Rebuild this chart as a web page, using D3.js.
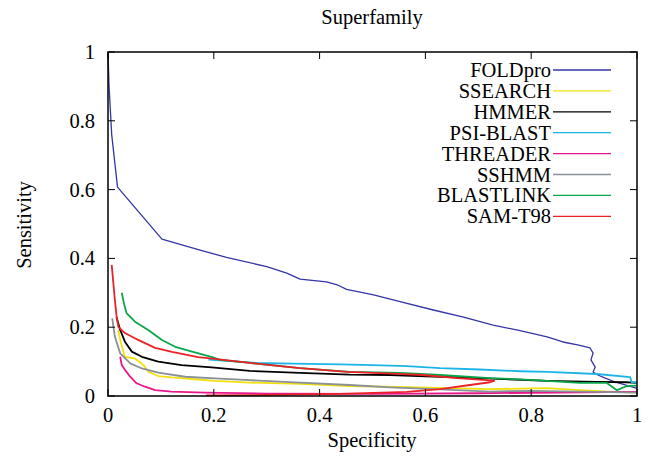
<!DOCTYPE html>
<html><head><meta charset="utf-8">
<script src="https://cdn.jsdelivr.net/npm/d3@7"></script>
<style>body{margin:0;background:#fff}svg{display:block}text{font-family:"Liberation Serif","DejaVu Serif",serif;fill:#000}</style>
</head><body><svg id="c" width="651" height="462"></svg>
<script>
const title = "Superfamily";
const xLabel = "Specificity";
const yLabel = "Sensitivity";
const tickValues = [0, 0.2, 0.4, 0.6, 0.8, 1];
const tickLabels = ["0", "0.2", "0.4", "0.6", "0.8", "1"];
const seriesNames = ["FOLDpro","SSEARCH","HMMER","PSI-BLAST","THREADER","SSHMM","BLASTLINK","SAM-T98"];
const seriesColors = ["#3535a5","#f0e010","#000000","#1cb4e8","#e8168c","#8a9097","#0aa64a","#ea2228"];

const foldpro = [[0,1],[0.002,0.9],[0.007,0.76],[0.018,0.607],[0.102,0.456],[0.174,0.424],[0.224,0.403],[0.3,0.376],[0.338,0.357],[0.363,0.34],[0.413,0.332],[0.435,0.322],[0.451,0.31],[0.502,0.294],[0.552,0.274],[0.615,0.25],[0.672,0.229],[0.728,0.206],[0.779,0.19],[0.83,0.172],[0.86,0.157],[0.89,0.148],[0.911,0.14],[0.917,0.125],[0.913,0.105],[0.921,0.084],[0.917,0.07],[0.926,0.061],[0.94,0.052],[0.96,0.04],[1,0.022]];
const ssearch = [[0.0195,0.192],[0.023,0.163],[0.032,0.114],[0.051,0.109],[0.067,0.09],[0.076,0.071],[0.095,0.058],[0.12,0.054],[0.17,0.048],[0.202,0.044],[0.268,0.039],[0.363,0.035],[0.457,0.029],[0.565,0.026],[0.722,0.02],[0.83,0.023],[0.892,0.017],[0.955,0.012],[1,0.01]];
const hmmer = [[0.016,0.23],[0.023,0.192],[0.032,0.158],[0.045,0.129],[0.064,0.114],[0.095,0.1],[0.139,0.09],[0.196,0.083],[0.268,0.073],[0.363,0.067],[0.457,0.062],[0.533,0.061],[0.628,0.056],[0.703,0.052],[0.83,0.044],[0.924,0.041],[0.98,0.04],[1,0.038]];
const psiblast = [[0.19,0.106],[0.28,0.096],[0.35,0.094],[0.439,0.092],[0.5,0.09],[0.565,0.087],[0.628,0.081],[0.703,0.077],[0.779,0.072],[0.83,0.07],[0.924,0.064],[0.987,0.055],[0.99,0.04],[1,0.04]];
const threader = [[0.023,0.114],[0.026,0.09],[0.032,0.076],[0.042,0.056],[0.054,0.037],[0.07,0.027],[0.089,0.017],[0.12,0.013],[0.183,0.01],[0.3,0.007],[0.5,0.006],[0.7,0.008],[0.85,0.01],[1,0.012]];
const sshmm = [[0.008,0.226],[0.013,0.172],[0.023,0.124],[0.042,0.095],[0.064,0.08],[0.095,0.068],[0.146,0.056],[0.202,0.051],[0.268,0.046],[0.363,0.039],[0.457,0.032],[0.533,0.025],[0.628,0.019],[0.722,0.013],[0.798,0.015],[0.892,0.013],[1,0.01]];
const blastlink = [[0.026,0.30],[0.03,0.27],[0.035,0.241],[0.051,0.216],[0.076,0.192],[0.102,0.163],[0.127,0.143],[0.159,0.129],[0.197,0.113],[0.212,0.105],[0.268,0.096],[0.363,0.081],[0.457,0.07],[0.552,0.067],[0.628,0.061],[0.722,0.052],[0.798,0.047],[0.892,0.038],[0.943,0.038],[0.962,0.017],[0.981,0.029],[1,0.03]];
const samt98 = [[0.007,0.381],[0.01,0.33],[0.013,0.279],[0.016,0.235],[0.0195,0.201],[0.032,0.183],[0.057,0.163],[0.089,0.14],[0.121,0.128],[0.17,0.113],[0.202,0.108],[0.268,0.096],[0.363,0.081],[0.452,0.07],[0.525,0.066],[0.595,0.061],[0.66,0.052],[0.716,0.046],[0.73,0.044],[0.722,0.04],[0.684,0.032],[0.628,0.02],[0.565,0.012],[0.439,0.006],[0.3,0.003],[0.185,0.002]];
const seriesData = [foldpro, ssearch, hmmer, psiblast, threader, sshmm, blastlink, samt98];

const svg = d3.select("#c");
const L = 108, R = 637, T = 52, B = 396;
const x = d3.scaleLinear().domain([0,1]).range([L,R]);
const y = d3.scaleLinear().domain([0,1]).range([B,T]);
const fs = 20.5;

const line = d3.line().x(d => x(d[0])).y(d => y(d[1]));
const g = svg.append("g");
seriesData.forEach((d,i) => {
  g.append("path").attr("d", line(d)).attr("fill","none")
   .attr("stroke", seriesColors[i]).attr("stroke-width", i===0 ? 1.3 : 1.8)
   .attr("stroke-linejoin","round");
});

svg.append("rect").attr("x",L).attr("y",T).attr("width",R-L).attr("height",B-T)
  .attr("fill","none").attr("stroke","#000").attr("stroke-width",1.5);

const tl = 7;
tickValues.forEach((v,i) => {
  svg.append("line").attr("x1",x(v)).attr("x2",x(v)).attr("y1",B).attr("y2",B-tl).attr("stroke","#000");
  svg.append("line").attr("x1",x(v)).attr("x2",x(v)).attr("y1",T).attr("y2",T+tl).attr("stroke","#000");
  svg.append("line").attr("y1",y(v)).attr("y2",y(v)).attr("x1",L).attr("x2",L+tl).attr("stroke","#000");
  svg.append("line").attr("y1",y(v)).attr("y2",y(v)).attr("x1",R).attr("x2",R-tl).attr("stroke","#000");
  svg.append("text").attr("x",x(v)).attr("y",422).attr("text-anchor","middle").attr("font-size",fs).text(tickLabels[i]);
  svg.append("text").attr("x",95).attr("y",y(v)+7).attr("text-anchor","end").attr("font-size",fs).text(tickLabels[i]);
});

svg.append("text").attr("x",372).attr("y",24).attr("text-anchor","middle").attr("font-size",fs).text(title);
svg.append("text").attr("x",372).attr("y",447).attr("text-anchor","middle").attr("font-size",fs).text(xLabel);
svg.append("text").attr("transform","translate(31,225) rotate(-90)").attr("text-anchor","middle").attr("font-size",fs).text(yLabel);

seriesNames.forEach((n,i) => {
  const yy = 70 + i*20.9;
  svg.append("text").attr("x",551).attr("y",yy+7).attr("text-anchor","end").attr("font-size",fs).text(n);
  svg.append("line").attr("x1",553).attr("x2",611).attr("y1",yy).attr("y2",yy)
    .attr("stroke",seriesColors[i]).attr("stroke-width",1.3);
});
</script></body></html>
